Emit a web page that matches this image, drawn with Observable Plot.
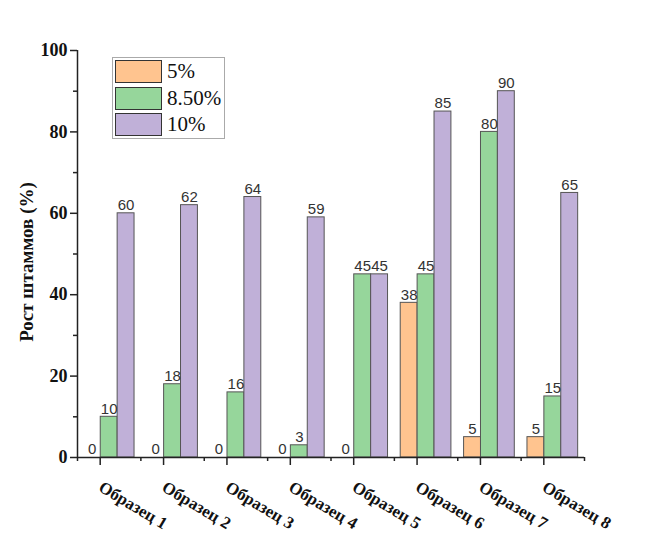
<!DOCTYPE html>
<html><head><meta charset="utf-8">
<script src="https://cdn.jsdelivr.net/npm/d3@7"></script>
<script src="https://cdn.jsdelivr.net/npm/@observablehq/plot@0.6"></script>
<style>
body{margin:0;background:#fff}
#wrap{position:relative;width:656px;height:541px}
#legend{position:absolute;left:112px;top:57px;width:111px;height:80px;border:1px solid #aaa;background:#fff;font-family:"Liberation Serif","Times New Roman",serif;font-size:21px;color:#111}
#legend .row{position:absolute;left:2px;height:23px;display:flex;align-items:center}
#legend .sw{width:45px;height:21px;border:1px solid #333;margin-right:5px}
</style>
</head><body><div id="wrap"></div>
<script>
const samples = ["Образец 1","Образец 2","Образец 3","Образец 4","Образец 5","Образец 6","Образец 7","Образец 8"];
const series = ["5%","8.50%","10%"];
const v5  = [0,0,0,0,0,38,5,5];
const v85 = [10,18,16,3,45,45,80,15];
const v10 = [60,62,64,59,45,85,90,65];
const colors = ["#FFC48F","#96D69B","#C0B0D8"];
const yTicks = [0,20,40,60,80,100];
const yMinor = [10,30,50,70,90];
const yTitle = "Рост штаммов (%)";

// group layout in data units: each sample occupies [i, i+1], bars fill its middle 80%
const groupPad = 0.1;
const barW = (1 - 2*groupPad) / series.length;
const values = [v5, v85, v10];
const data = samples.flatMap((s,i)=>series.map((k,j)=>{
  const x1 = i + groupPad + j*barW;
  return {sample:s, series:k, value:values[j][i], x1, x2:x1+barW, xm:x1+barW/2};
}));
const centers = samples.map((s,i)=>i+0.5);
const bounds = d3.range(samples.length+1);

const serif = "Liberation Serif, Times New Roman, serif";
const plot = Plot.plot({
  width:656, height:541,
  marginLeft:77, marginRight:72, marginTop:50, marginBottom:84,
  x:{domain:[0, samples.length], axis:null},
  y:{domain:[0,100], axis:null},
  color:{domain:series, range:colors},
  style:{background:"#fff", overflow:"visible"},
  marks:[
    Plot.rectY(data,{x1:"x1", x2:"x2", y:"value", fill:"series", stroke:"#555", strokeWidth:1}),
    Plot.text(data,{x:"xm", y:"value", text:d=>String(d.value), dy:-8, fontFamily:"Liberation Sans, Arial, sans-serif", fontSize:15, fill:"#333"}),
    Plot.ruleY([0],{stroke:"#222", strokeWidth:1.5}),
    Plot.ruleX([0],{stroke:"#222", strokeWidth:1.5}),
    Plot.axisY(yTicks,{anchor:"left", tickSize:7, tickPadding:3, label:null, fontFamily:serif, fontWeight:"bold", fontSize:18, fill:"#111", stroke:"#222", strokeWidth:1.5}),
    Plot.axisY(yMinor,{anchor:"left", tickSize:4, text:null, label:null, stroke:"#222", strokeWidth:1.5}),
    Plot.axisX(bounds,{anchor:"bottom", tickSize:4, text:null, label:null, stroke:"#222", strokeWidth:1.5}),
    Plot.axisX(centers,{anchor:"bottom", tickSize:8, tickPadding:20, dx:-9, tickRotate:31, tickFormat:d=>samples[Math.floor(d)], label:null, fontFamily:serif, fontWeight:"bold", fontSize:17, fill:"#111", stroke:"#222", strokeWidth:1.5}),
    Plot.text([yTitle],{frameAnchor:"left", textAnchor:"middle", rotate:-90, dx:-51, dy:8, fontFamily:serif, fontWeight:"bold", fontSize:19, fill:"#111"})
  ]
});
document.getElementById("wrap").appendChild(plot);

// legend
const lg = d3.select("#wrap").append("div").attr("id","legend");
series.forEach((s,i)=>{
  const r = lg.append("div").attr("class","row").style("top",(2+i*26.5)+"px");
  r.append("div").attr("class","sw").style("background",colors[i]);
  r.append("span").text(s);
});
</script>
</body></html>
